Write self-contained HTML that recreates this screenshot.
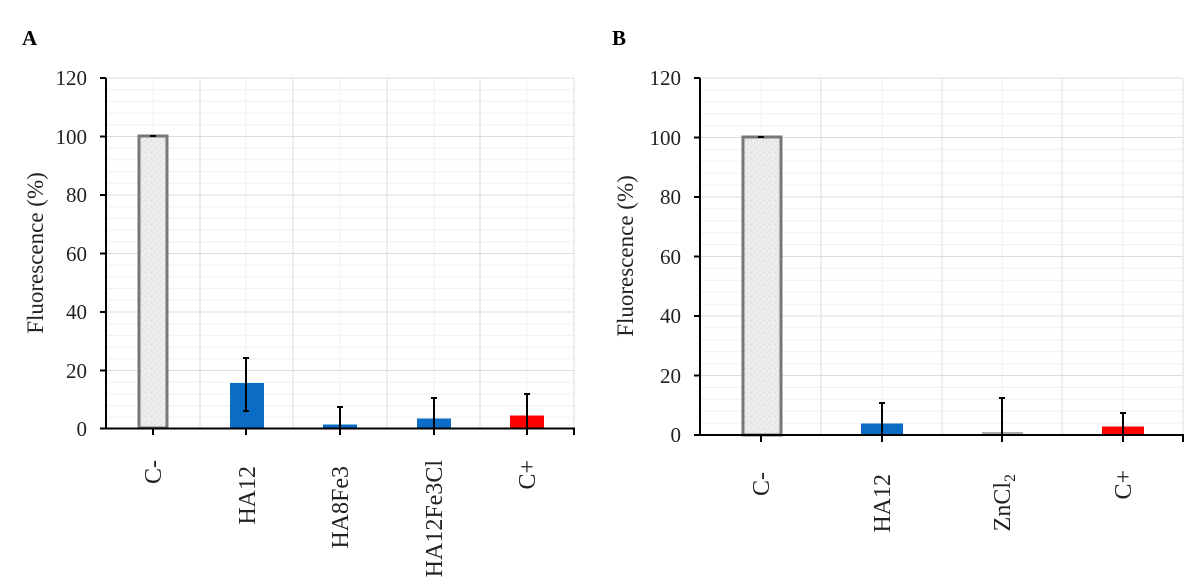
<!DOCTYPE html>
<html><head><meta charset="utf-8"><style>html,body{margin:0;padding:0;background:#fff}svg{display:block}</style></head>
<body>
<svg width="1200" height="584" viewBox="0 0 1200 584" xmlns="http://www.w3.org/2000/svg" font-family="Liberation Serif, serif">
<defs>
<pattern id="dots" width="6" height="6" patternUnits="userSpaceOnUse">
<rect width="6" height="6" fill="#ececec"/><rect x="1" y="2" width="1" height="1" fill="#cfcfcf"/><rect x="4" y="4" width="1" height="1" fill="#d4d4d4"/><rect x="3" y="0" width="1" height="1" fill="#dadada"/>
</pattern>
</defs>
<text x="22" y="45" font-size="21" font-weight="bold">A</text>
<text x="612" y="45" font-size="21" font-weight="bold">B</text>
<g id="A">
<g stroke="#f0f0f0" stroke-width="1">
<line x1="106" x2="574" y1="89.7" y2="89.7"/><line x1="106" x2="574" y1="101.4" y2="101.4"/><line x1="106" x2="574" y1="113.1" y2="113.1"/><line x1="106" x2="574" y1="124.8" y2="124.8"/>
<line x1="106" x2="574" y1="148.2" y2="148.2"/><line x1="106" x2="574" y1="159.9" y2="159.9"/><line x1="106" x2="574" y1="171.6" y2="171.6"/><line x1="106" x2="574" y1="183.3" y2="183.3"/>
<line x1="106" x2="574" y1="206.7" y2="206.7"/><line x1="106" x2="574" y1="218.4" y2="218.4"/><line x1="106" x2="574" y1="230.1" y2="230.1"/><line x1="106" x2="574" y1="241.8" y2="241.8"/>
<line x1="106" x2="574" y1="265.2" y2="265.2"/><line x1="106" x2="574" y1="276.9" y2="276.9"/><line x1="106" x2="574" y1="288.6" y2="288.6"/><line x1="106" x2="574" y1="300.3" y2="300.3"/>
<line x1="106" x2="574" y1="323.7" y2="323.7"/><line x1="106" x2="574" y1="335.4" y2="335.4"/><line x1="106" x2="574" y1="347.1" y2="347.1"/><line x1="106" x2="574" y1="358.8" y2="358.8"/>
<line x1="106" x2="574" y1="382.2" y2="382.2"/><line x1="106" x2="574" y1="393.9" y2="393.9"/><line x1="106" x2="574" y1="405.6" y2="405.6"/><line x1="106" x2="574" y1="417.3" y2="417.3"/>
<line x1="153" x2="153" y1="78" y2="428"/><line x1="246" x2="246" y1="78" y2="428"/><line x1="340" x2="340" y1="78" y2="428"/><line x1="434" x2="434" y1="78" y2="428"/><line x1="527" x2="527" y1="78" y2="428"/>
</g>
<g stroke="#dcdcdc" stroke-width="1">
<line x1="106" x2="574" y1="78" y2="78"/><line x1="106" x2="574" y1="136.5" y2="136.5"/><line x1="106" x2="574" y1="195" y2="195"/><line x1="106" x2="574" y1="253.5" y2="253.5"/><line x1="106" x2="574" y1="312" y2="312"/><line x1="106" x2="574" y1="370.5" y2="370.5"/>
<line x1="200" x2="200" y1="78" y2="428"/><line x1="293" x2="293" y1="78" y2="428"/><line x1="387" x2="387" y1="78" y2="428"/><line x1="480" x2="480" y1="78" y2="428"/><line x1="574" x2="574" y1="78" y2="428"/>
</g>
<rect x="139" y="136" width="28" height="292" fill="url(#dots)" stroke="#777" stroke-width="3"/>
<rect x="230" y="383" width="34" height="45" fill="#0a6cc4"/>
<rect x="323" y="424.5" width="34" height="3.5" fill="#0a6cc4"/>
<rect x="417" y="418.5" width="34" height="9.5" fill="#0a6cc4"/>
<rect x="510" y="415.5" width="34" height="12.5" fill="#f00"/>
<g stroke="#000" stroke-width="2">
<line x1="150" x2="156" y1="136" y2="136"/>
<line x1="246" x2="246" y1="358" y2="411"/><line x1="243" x2="249" y1="358" y2="358"/><line x1="243" x2="249" y1="411" y2="411"/>
<line x1="340" x2="340" y1="407" y2="428"/><line x1="337" x2="343" y1="407" y2="407"/>
<line x1="434" x2="434" y1="398" y2="428"/><line x1="431" x2="437" y1="398" y2="398"/>
<line x1="527" x2="527" y1="394" y2="428"/><line x1="524" x2="530" y1="394" y2="394"/>
</g>
<g stroke="#000" stroke-width="2" fill="none">
<line x1="106" x2="106" y1="78" y2="429"/>
<line x1="105" x2="575" y1="428.5" y2="428.5"/>
<line x1="100" x2="106" y1="78" y2="78"/><line x1="100" x2="106" y1="136.5" y2="136.5"/><line x1="100" x2="106" y1="195" y2="195"/><line x1="100" x2="106" y1="253.5" y2="253.5"/><line x1="100" x2="106" y1="312" y2="312"/><line x1="100" x2="106" y1="370.5" y2="370.5"/><line x1="100" x2="106" y1="428.5" y2="428.5"/>
<line x1="153" x2="153" y1="428" y2="435"/><line x1="246" x2="246" y1="428" y2="435"/><line x1="340" x2="340" y1="428" y2="435"/><line x1="434" x2="434" y1="428" y2="435"/><line x1="527" x2="527" y1="428" y2="435"/><line x1="574" x2="574" y1="428" y2="435"/>
</g>
<g font-size="21" text-anchor="end" fill="#222">
<text x="87" y="85">120</text><text x="87" y="144">100</text><text x="87" y="202">80</text><text x="87" y="261">60</text><text x="87" y="319">40</text><text x="87" y="378">20</text><text x="87" y="436">0</text>
</g>
<text transform="translate(43,253) rotate(-90)" font-size="23" text-anchor="middle" fill="#222">Fluorescence (%)</text>
<g font-size="24" text-anchor="end" fill="#222">
<text transform="translate(161,460) rotate(-90)">C-</text>
<text transform="translate(255,466) rotate(-90)">HA12</text>
<text transform="translate(348,466) rotate(-90)">HA8Fe3</text>
<text transform="translate(442,460) rotate(-90)">HA12Fe3Cl</text>
<text transform="translate(535,460) rotate(-90)">C+</text>
</g>
</g>
<g id="B">
<g stroke="#f0f0f0" stroke-width="1">
<line x1="700" x2="1183" y1="89.9" y2="89.9"/><line x1="700" x2="1183" y1="101.8" y2="101.8"/><line x1="700" x2="1183" y1="113.7" y2="113.7"/><line x1="700" x2="1183" y1="125.6" y2="125.6"/>
<line x1="700" x2="1183" y1="149.4" y2="149.4"/><line x1="700" x2="1183" y1="161.3" y2="161.3"/><line x1="700" x2="1183" y1="173.2" y2="173.2"/><line x1="700" x2="1183" y1="185.1" y2="185.1"/>
<line x1="700" x2="1183" y1="208.9" y2="208.9"/><line x1="700" x2="1183" y1="220.8" y2="220.8"/><line x1="700" x2="1183" y1="232.7" y2="232.7"/><line x1="700" x2="1183" y1="244.6" y2="244.6"/>
<line x1="700" x2="1183" y1="268.4" y2="268.4"/><line x1="700" x2="1183" y1="280.3" y2="280.3"/><line x1="700" x2="1183" y1="292.2" y2="292.2"/><line x1="700" x2="1183" y1="304.1" y2="304.1"/>
<line x1="700" x2="1183" y1="327.9" y2="327.9"/><line x1="700" x2="1183" y1="339.8" y2="339.8"/><line x1="700" x2="1183" y1="351.7" y2="351.7"/><line x1="700" x2="1183" y1="363.6" y2="363.6"/>
<line x1="700" x2="1183" y1="387.4" y2="387.4"/><line x1="700" x2="1183" y1="399.3" y2="399.3"/><line x1="700" x2="1183" y1="411.2" y2="411.2"/><line x1="700" x2="1183" y1="423.1" y2="423.1"/>
<line x1="761" x2="761" y1="78" y2="435"/><line x1="882" x2="882" y1="78" y2="435"/><line x1="1002" x2="1002" y1="78" y2="435"/><line x1="1123" x2="1123" y1="78" y2="435"/>
</g>
<g stroke="#dcdcdc" stroke-width="1">
<line x1="700" x2="1183" y1="78" y2="78"/><line x1="700" x2="1183" y1="137.5" y2="137.5"/><line x1="700" x2="1183" y1="197" y2="197"/><line x1="700" x2="1183" y1="256.5" y2="256.5"/><line x1="700" x2="1183" y1="316" y2="316"/><line x1="700" x2="1183" y1="375.5" y2="375.5"/>
<line x1="821" x2="821" y1="78" y2="435"/><line x1="942" x2="942" y1="78" y2="435"/><line x1="1062" x2="1062" y1="78" y2="435"/><line x1="1183" x2="1183" y1="78" y2="435"/>
</g>
<rect x="743" y="137" width="38" height="298" fill="url(#dots)" stroke="#777" stroke-width="3"/>
<rect x="861" y="423.5" width="42" height="11.5" fill="#0a6cc4"/>
<rect x="982" y="432" width="41" height="3" fill="#aaa"/>
<rect x="1102" y="426.5" width="42" height="8.5" fill="#f00"/>
<g stroke="#000" stroke-width="2">
<line x1="758" x2="764" y1="137" y2="137"/>
<line x1="882" x2="882" y1="403" y2="435"/><line x1="879" x2="885" y1="403" y2="403"/>
<line x1="1002" x2="1002" y1="398" y2="435"/><line x1="999" x2="1005" y1="398" y2="398"/>
<line x1="1123" x2="1123" y1="413" y2="435"/><line x1="1120" x2="1126" y1="413" y2="413"/>
</g>
<g stroke="#000" stroke-width="2" fill="none">
<line x1="700" x2="700" y1="78" y2="436"/>
<line x1="699" x2="1184" y1="435" y2="435"/>
<line x1="694" x2="700" y1="78" y2="78"/><line x1="694" x2="700" y1="137.5" y2="137.5"/><line x1="694" x2="700" y1="197" y2="197"/><line x1="694" x2="700" y1="256.5" y2="256.5"/><line x1="694" x2="700" y1="316" y2="316"/><line x1="694" x2="700" y1="375.5" y2="375.5"/><line x1="694" x2="700" y1="435" y2="435"/>
<line x1="761" x2="761" y1="435" y2="442"/><line x1="882" x2="882" y1="435" y2="442"/><line x1="1002" x2="1002" y1="435" y2="442"/><line x1="1123" x2="1123" y1="435" y2="442"/><line x1="1183" x2="1183" y1="435" y2="442"/>
</g>
<g font-size="21" text-anchor="end" fill="#222">
<text x="681" y="85">120</text><text x="681" y="145">100</text><text x="681" y="204">80</text><text x="681" y="264">60</text><text x="681" y="323">40</text><text x="681" y="383">20</text><text x="681" y="442">0</text>
</g>
<text transform="translate(633,256) rotate(-90)" font-size="23" text-anchor="middle" fill="#222">Fluorescence (%)</text>
<g font-size="24" text-anchor="end" fill="#222">
<text transform="translate(769,472) rotate(-90)">C-</text>
<text transform="translate(890,474) rotate(-90)">HA12</text>
<text transform="translate(1010,474) rotate(-90)">ZnCl<tspan font-size="16" dy="5">2</tspan></text>
<text transform="translate(1131,470) rotate(-90)">C+</text>
</g>
</g>
</svg>
</body></html>
